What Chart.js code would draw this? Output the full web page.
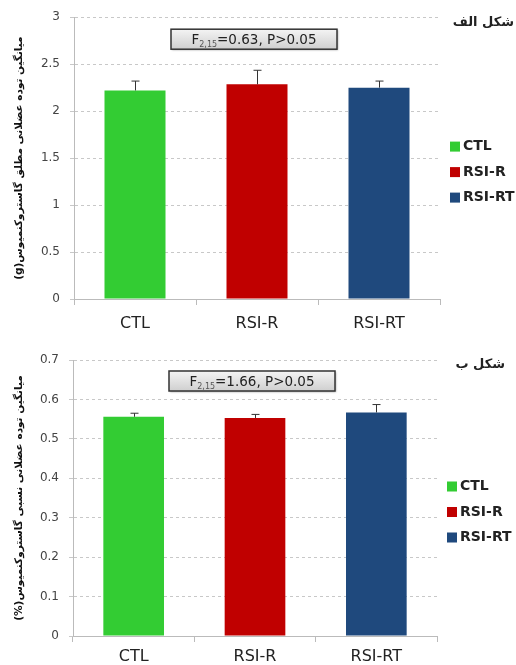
<!DOCTYPE html>
<html>
<head>
<meta charset="utf-8">
<script src="https://cdn.jsdelivr.net/npm/chart.js@4/dist/chart.umd.min.js"></script>
<style>
  html, body { margin: 0; padding: 0; background: #fff; }
  .panel { position: absolute; left: 0; width: 516px; }
  #p1 { top: 0; height: 335px; }
  #p2 { top: 340px; height: 325px; }
</style>
</head>
<body>
<div class="panel" id="p1"><canvas id="c1"></canvas></div>
<div class="panel" id="p2"><canvas id="c2"></canvas></div>
<script>
const categories = ['CTL', 'RSI-R', 'RSI-RT'];
const barColors = ['#33cc33', '#c00000', '#1f497d'];

// shekl alef: absolute gastrocnemius mass (g)
const massAbs = [2.22, 2.285, 2.25];
const massAbsErr = [0.10, 0.15, 0.07];
const absMax = 3;
const absStep = 0.5;

// shekl be: relative gastrocnemius mass (%)
const massRel = [0.556, 0.553, 0.567];
const massRelErr = [0.009, 0.009, 0.02];
const relMax = 0.7;
const relStep = 0.1;

const FONT = "'DejaVu Sans', sans-serif";

// error bars, stats box, legend and panel title
const extras = {
  id: 'extras',
  afterDatasetsDraw(chart, args, opts) {
    const ctx = chart.ctx;
    const y = chart.scales.y;
    const meta = chart.getDatasetMeta(0);
    const ds = chart.data.datasets[0];
    ctx.save();
    ctx.strokeStyle = '#333';
    ctx.lineWidth = 1;
    meta.data.forEach((bar, i) => {
      const top = y.getPixelForValue(ds.data[i] + opts.errors[i]);
      const x = Math.round(bar.x) + 0.5;
      ctx.beginPath();
      ctx.moveTo(x, bar.y);
      ctx.lineTo(x, top);
      ctx.moveTo(x - 4, top);
      ctx.lineTo(x + 4, top);
      ctx.stroke();
    });
    ctx.restore();
  },
  afterDraw(chart, args, opts) {
    const ctx = chart.ctx;
    const a = chart.chartArea;
    ctx.save();

    // stats box
    const bw = 166, bh = 20;
    const bx = (a.left + a.right) / 2 - 3 - bw / 2;
    const by = a.top + opts.boxTop;
    ctx.shadowColor = 'rgba(0,0,0,0.35)';
    ctx.shadowOffsetX = 1;
    ctx.shadowOffsetY = 1;
    ctx.shadowBlur = 2;
    const g = ctx.createLinearGradient(0, by, 0, by + bh);
    g.addColorStop(0, '#f4f4f4');
    g.addColorStop(1, '#cfcfcf');
    ctx.fillStyle = g;
    ctx.fillRect(bx, by, bw, bh);
    ctx.shadowColor = 'transparent';
    ctx.strokeStyle = '#333';
    ctx.lineWidth = 1.5;
    ctx.strokeRect(bx, by, bw, bh);

    ctx.fillStyle = '#222';
    ctx.textBaseline = 'alphabetic';
    ctx.textAlign = 'left';
    const main = '13.5px ' + FONT, sub = '8px ' + FONT;
    ctx.font = main;
    const wF = ctx.measureText('F').width;
    const wRest = ctx.measureText(opts.stat).width;
    ctx.font = sub;
    const wSub = ctx.measureText(opts.df).width;
    let tx = bx + bw / 2 - (wF + wSub + wRest) / 2;
    const base = by + 15;
    ctx.font = main;
    ctx.fillText('F', tx, base);
    tx += wF;
    ctx.font = sub;
    ctx.fillStyle = '#555';
    ctx.fillText(opts.df, tx, base + 3);
    tx += wSub;
    ctx.font = main;
    ctx.fillStyle = '#222';
    ctx.fillText(opts.stat, tx, base);

    // legend
    const mid = (a.top + a.bottom) / 2 + 14;
    ctx.font = 'bold 14px ' + FONT;
    ctx.textBaseline = 'middle';
    categories.forEach((c, i) => {
      const ly = mid + (i - 1) * 25.5;
      ctx.fillStyle = barColors[i];
      ctx.fillRect(a.right + opts.legendDx, ly - 5, 10, 10);
      ctx.fillStyle = '#222';
      ctx.fillText(c, a.right + opts.legendDx + 13, ly);
    });

    // panel title
    ctx.font = 'bold 13px ' + FONT;
    ctx.textAlign = 'right';
    ctx.fillStyle = '#222';
    ctx.fillText(opts.title, opts.titleX, opts.titleY);
    ctx.restore();
  }
};

function makeChart(id, values, errors, max, step, o) {
  return new Chart(document.getElementById(id), {
    type: 'bar',
    data: {
      labels: categories,
      datasets: [{
        data: values,
        backgroundColor: barColors,
        barPercentage: 0.5,
        categoryPercentage: 1
      }]
    },
    options: {
      responsive: true,
      maintainAspectRatio: false,
      animation: false,
      layout: { padding: { top: o.top, right: o.right, left: 0, bottom: 0 } },
      plugins: {
        legend: { display: false },
        tooltip: { enabled: false },
        extras: {
          errors: errors,
          df: '2,15',
          stat: o.stat,
          title: o.title,
          titleX: o.titleX,
          titleY: o.titleY,
          boxTop: o.boxTop,
          legendDx: o.legendDx
        }
      },
      scales: {
        x: {
          afterFit: s => { s.height = o.xHeight; },
          grid: { drawOnChartArea: false, tickLength: 6, color: '#bbb' },
          border: { color: '#bbb' },
          ticks: { color: '#222', padding: o.xPad, font: { family: FONT, size: 16 } }
        },
        y: {
          min: 0,
          max: max,
          afterFit: s => { s.width = o.left; },
          ticks: {
            stepSize: step,
            color: '#444',
            padding: 10,
            font: { family: FONT, size: 12 },
            callback: v => String(Number(v.toFixed(1)))
          },
          grid: { color: '#c8c8c8', tickLength: 4 },
          border: { color: '#bbb', dash: [3, 3] },
          title: {
            display: true,
            text: o.yTitle,
            color: '#111',
            padding: { top: 13, bottom: 0 },
            font: { family: FONT, size: 10.5, weight: 'bold' }
          }
        }
      }
    },
    plugins: [extras]
  });
}

makeChart('c1', massAbs, massAbsErr, absMax, absStep, {
  top: 17, right: 76, left: 74, xHeight: 36, xPad: 9,
  boxTop: 12, legendDx: 10,
  stat: '=0.63, P>0.05',
  title: 'شکل الف', titleX: 514, titleY: 23,
  yTitle: '(g)میانگین توده عضلانی مطلق گاستروکنمیوس'
});

makeChart('c2', massRel, massRelErr, relMax, relStep, {
  top: 20, right: 79, left: 73, xHeight: 29, xPad: 5,
  boxTop: 11, legendDx: 10,
  stat: '=1.66, P>0.05',
  title: 'شکل ب', titleX: 505, titleY: 25,
  yTitle: '(%)میانگین توده عضلانی نسبی گاستروکنمیوس'
});
</script>
</body>
</html>
